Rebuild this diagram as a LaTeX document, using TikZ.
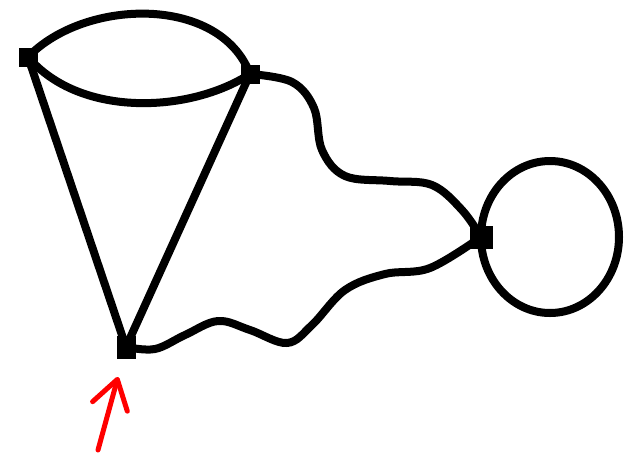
\documentclass[tikz,border=0pt]{standalone}
\usepackage{tikz}
\usetikzlibrary{arrows.meta,calc}

\begin{document}
\begin{tikzpicture}[
  x=1pt, y=-1pt,
  vertex/.style={draw, fill=black, minimum size=18pt, inner sep=0pt, line width=1pt},
  edge/.style={line width=8pt, line cap=round, line join=round},
  pointer/.style={draw=red, line width=5pt, line cap=round, -{Straight Barb[length=28pt,width=36pt,round]}}]

  \useasboundingbox (0,0) rectangle (627,459);

  \node[vertex] (a) at (28,57) {};
  \node[vertex] (b) at (250,74) {};
  \node[vertex, minimum height=22pt] (c) at (126,347) {};
  \node[vertex, minimum size=22pt] (d) at (481,237) {};

  \coordinate (tail) at (98,450);
  \coordinate (tip) at (118,377);

  % double edge between the two top vertices
  \draw[edge] (a.center) .. controls (85,-2) and (220,-5) .. (b.center);
  \draw[edge] (a.center) .. controls (80,118) and (190,113) .. (b.center);

  \draw[edge] (a.center) -- (c.center);
  \draw[edge] (b.center) -- (c.center);

  % wavy edges to the right vertex
  \draw[edge] plot[smooth, tension=0.6] coordinates {(b.center) (292,82) (314,108) (322,150) (345,176) (390,181) (432,185) (462,210) (d.center)};
  \draw[edge] plot[smooth, tension=0.6] coordinates {(c.center) (155,349) (185,335) (218,321) (250,330) (287,343) (312,325) (345,290) (385,274) (430,268) (d.center)};

  % loop
  \draw[edge] (d.center) arc[start angle=180, end angle=-180, x radius=69, y radius=76];

  \draw[pointer] (tail) -- (tip);
\end{tikzpicture}
\end{document}
